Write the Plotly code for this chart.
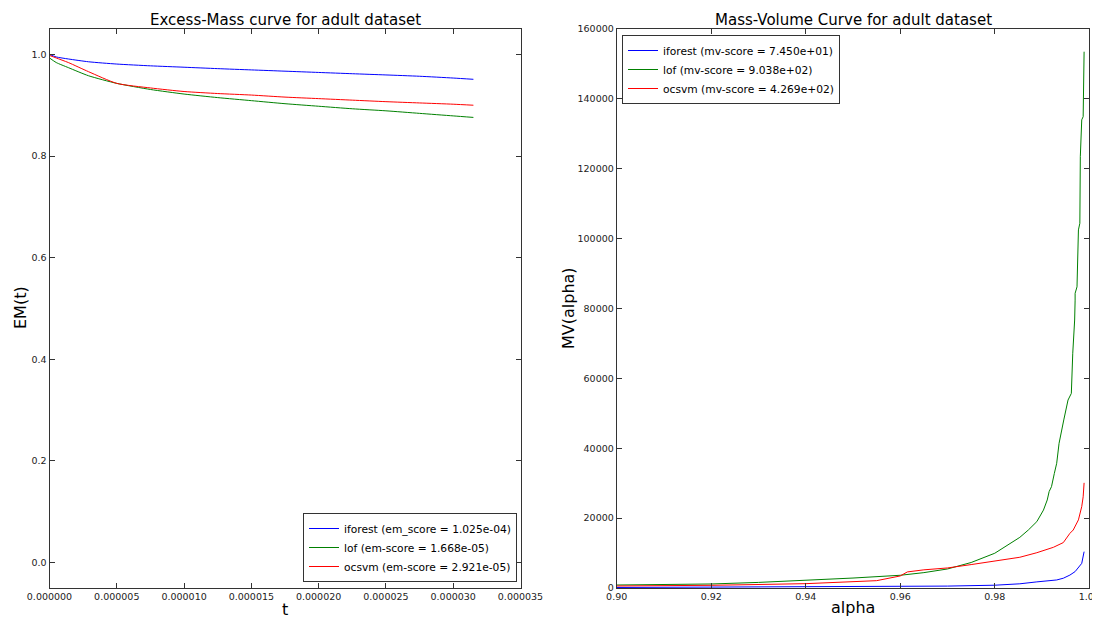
import plotly.graph_objects as go

# ---------------- Data: Excess-Mass curve ----------------
t_em = [0.0, 0.5e-6, 1.4e-6, 2.9e-6, 5e-6, 7.5e-6, 10e-6, 12.5e-6, 15e-6,
        17.5e-6, 20e-6, 22.5e-6, 25e-6, 27.5e-6, 30e-6, 31.5e-6]
em_iforest = [1.000, 0.995, 0.991, 0.9855, 0.981, 0.9775, 0.9748, 0.972, 0.9695,
              0.967, 0.9645, 0.962, 0.9596, 0.957, 0.9535, 0.951]
em_lof = [0.993, 0.984, 0.974, 0.958, 0.943, 0.931, 0.922, 0.915, 0.909,
          0.903, 0.898, 0.893, 0.889, 0.884, 0.879, 0.876]
em_ocsvm = [0.998, 0.993, 0.984, 0.966, 0.943, 0.934, 0.927, 0.923, 0.920,
            0.916, 0.913, 0.910, 0.907, 0.9045, 0.902, 0.900]

em_labels = ["iforest (em_score = 1.025e-04)",
             "lof (em-score = 1.668e-05)",
             "ocsvm (em-score = 2.921e-05)"]

# ---------------- Data: Mass-Volume curve ----------------
alpha_iforest = [0.900, 0.930, 0.960, 0.970, 0.980, 0.9853, 0.9889, 0.9931,
                 0.9945, 0.9959, 0.9970, 0.9979, 0.9984, 0.9989]
mv_iforest = [150, 250, 400, 550, 800, 1200, 1750, 2300,
              2800, 3700, 4700, 6100, 7050, 10400]

alpha_lof = [0.900, 0.910, 0.920, 0.930, 0.940, 0.950, 0.960, 0.965, 0.970,
             0.975, 0.980, 0.9853, 0.9871, 0.9889, 0.9903, 0.9911, 0.9915,
             0.9920, 0.9926, 0.9931, 0.9936, 0.9941, 0.9946, 0.9955, 0.9962,
             0.9965, 0.9968, 0.9969, 0.9970, 0.9970, 0.9974, 0.9977, 0.9980,
             0.9981, 0.9984, 0.9987, 0.9989]
mv_lof = [860, 1000, 1150, 1600, 2200, 2850, 3640, 4400, 5450,
          7300, 9950, 14500, 16600, 19000, 22300, 25200, 27600,
          29000, 32800, 35700, 41400, 45200, 48100, 53800, 55700,
          67200, 72900, 76700, 82400, 84350, 86200, 102500, 104400,
          123450, 134000, 134900, 153500]

alpha_ocsvm = [0.900, 0.920, 0.940, 0.955, 0.960, 0.9615, 0.965, 0.970, 0.975,
               0.980, 0.9853, 0.9889, 0.9924, 0.9945, 0.9959, 0.9966, 0.9977,
               0.9984, 0.9987, 0.9989]
mv_ocsvm = [575, 770, 1240, 2100, 3450, 4600, 5200, 5740, 6700,
            7650, 8800, 10100, 11650, 13000, 15650, 16600, 19500,
            23300, 26100, 30100]

mv_labels = ["iforest (mv-score = 7.450e+01)",
             "lof (mv-score = 9.038e+02)",
             "ocsvm (mv-score = 4.269e+02)"]

colors = ["#0000ff", "#008000", "#ff0000"]

FONT = "DejaVu Sans"
W, H, OFF = 1100, 619, 8  # page body margin offsets the figure by 8px


def px(x):
    return (x - OFF) / W


def py(y):
    return 1 - (y - OFF) / H


fig = go.Figure()

for y, lab, c in zip([em_iforest, em_lof, em_ocsvm], em_labels, colors):
    fig.add_trace(go.Scatter(x=t_em, y=y, mode="lines", name=lab,
                             line=dict(color=c, width=1, shape="spline", smoothing=0.6),
                             xaxis="x", yaxis="y", legend="legend"))

for a, v, lab, c in zip([alpha_iforest, alpha_lof, alpha_ocsvm],
                        [mv_iforest, mv_lof, mv_ocsvm], mv_labels, colors):
    fig.add_trace(go.Scatter(x=a, y=v, mode="lines", name=lab,
                             line=dict(color=c, width=1),
                             xaxis="x2", yaxis="y2", legend="legend2"))

axis_common = dict(showline=True, linecolor="#333333", linewidth=1,
                   mirror="ticks", ticks="inside", ticklen=5,
                   tickcolor="#333333", showgrid=False, zeroline=False,
                   automargin=False,
                   tickfont=dict(family=FONT, size=9.5, color="#222222"))

ydom = [py(588), py(29)]

fig.update_layout(
    width=W, height=H,
    margin=dict(l=0, r=0, t=0, b=0, autoexpand=False),
    paper_bgcolor="white", plot_bgcolor="white",
    font=dict(family=FONT, color="#000000"),
    xaxis=dict(domain=[px(49.5), px(520.5)], range=[0, 3.5e-5],
               dtick=5e-6, tick0=0, tickformat=".6f", anchor="y", **axis_common),
    yaxis=dict(domain=ydom, range=[-0.05, 1.05], dtick=0.2, tick0=0,
               tickformat=".1f", anchor="x", **axis_common),
    xaxis2=dict(domain=[px(616.7), px(1089.3)], range=[0.9, 1.0],
                dtick=0.02, tick0=0.9, tickformat=".2f", anchor="y2", **axis_common),
    yaxis2=dict(domain=ydom, range=[0, 160000], dtick=20000, tick0=0,
                tickformat="d", anchor="x2", **axis_common),
    legend=dict(x=px(517), y=py(582), xanchor="right", yanchor="bottom",
                bordercolor="#333333", borderwidth=1, bgcolor="white",
                font=dict(family=FONT, size=10.7, color="#000000"),
                tracegroupgap=0),
    legend2=dict(x=px(622), y=py(35), xanchor="left", yanchor="top",
                 bordercolor="#333333", borderwidth=1, bgcolor="white",
                 font=dict(family=FONT, size=10.7, color="#000000"),
                 tracegroupgap=0),
    showlegend=True,
)

ann = [
    dict(text="Excess-Mass curve for adult dataset", x=px(285), y=py(20),
         font=dict(size=15)),
    dict(text="Mass-Volume Curve for adult dataset", x=px(853), y=py(20),
         font=dict(size=15)),
    dict(text="t", x=px(285), y=py(609), font=dict(size=16)),
    dict(text="alpha", x=px(853), y=py(607), font=dict(size=16)),
    dict(text="EM(t)", x=px(20), y=py(308), font=dict(size=16), textangle=-90),
    dict(text="MV(alpha)", x=px(568), y=py(308), font=dict(size=16), textangle=-90),
]
for a in ann:
    fig.add_annotation(xref="paper", yref="paper", showarrow=False,
                       xanchor="center", yanchor="middle",
                       font_family=FONT, font_color="#000000", **a)

fig.write_html("out.html")
